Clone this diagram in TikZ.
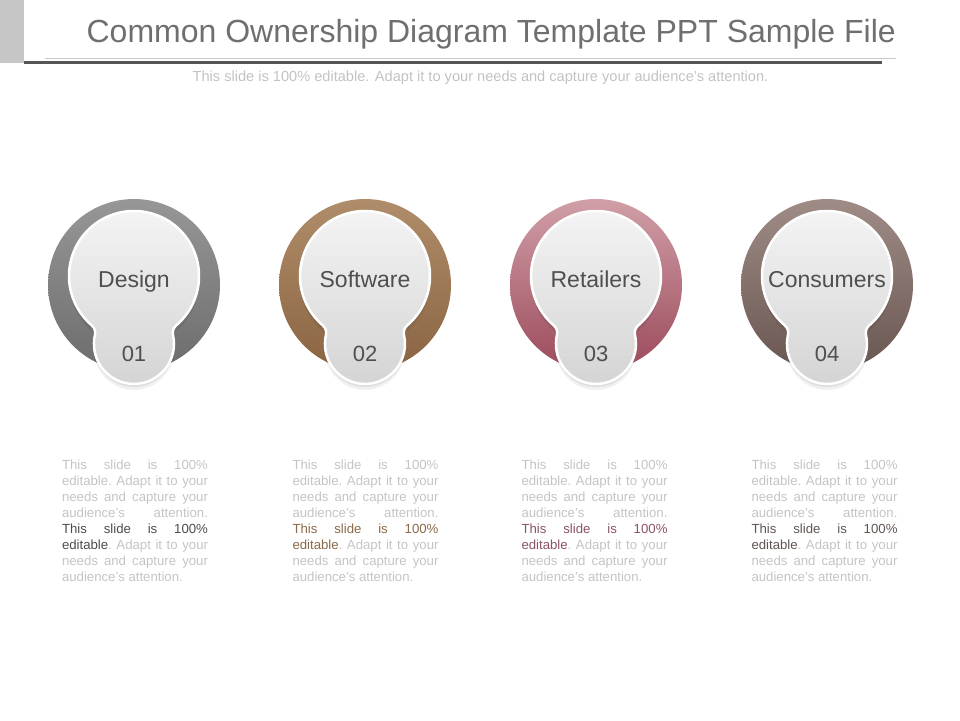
\documentclass[tikz,border=0pt]{standalone}
\usepackage{fontspec}
\setmainfont{Liberation Sans}

\definecolor{barGray}{HTML}{C6C6C6}
\definecolor{lineLight}{HTML}{C8C8C8}
\definecolor{lineDark}{HTML}{555555}
\definecolor{titleGray}{HTML}{6F6F6F}
\definecolor{subGray}{HTML}{C2C2C2}
\definecolor{labelGray}{HTML}{4F4F4F}
\definecolor{blurbGray}{HTML}{C4C4C4}
\definecolor{ringAtop}{HTML}{979797}
\definecolor{ringAbot}{HTML}{6C6C6C}
\definecolor{ringBtop}{HTML}{B08D6A}
\definecolor{ringBbot}{HTML}{8A6442}
\definecolor{ringCtop}{HTML}{D09FA7}
\definecolor{ringCbot}{HTML}{9C4A5B}
\definecolor{ringDtop}{HTML}{A08C87}
\definecolor{ringDbot}{HTML}{6A5651}
\definecolor{hlA}{HTML}{4D4D4D}
\definecolor{hlB}{HTML}{8A6A48}
\definecolor{hlC}{HTML}{8C5362}
\definecolor{hlD}{HTML}{5F5651}

% outline of one big circle with the small one hung below it
\newcommand{\bulbpath}{(-49.4:65) arc[start angle=-49.4, end angle=229.4, radius=65]
  arc[start angle=49.4, end angle=-12.7, radius=10]
  arc[start angle=167.3, end angle=372.7, radius=40]
  arc[start angle=192.7, end angle=130.6, radius=10] -- cycle}

\newcommand{\blurbsetup}{\hyphenpenalty=10000\relax\exhyphenpenalty=10000\relax
  \tolerance=10000\relax\hbadness=10000\relax\frenchspacing}
\newcommand{\blurb}[1]{\blurbsetup This slide is 100\%\linebreak editable. Adapt it to your\linebreak
  needs and capture your\linebreak audience's attention.\linebreak
  \textcolor{#1}{This slide is 100\%\linebreak editable}. Adapt it to your\linebreak
  needs and capture your\linebreak audience's attention.}

\tikzset{
  title/.style={font=\fontsize{32}{36}\selectfont, text=titleGray, inner sep=0, anchor=base east},
  subtitle/.style={font=\fontsize{14.6}{17}\selectfont, text=subGray, inner sep=0, anchor=base},
  lbl/.style={font=\fontsize{23}{26}\selectfont, text=labelGray, inner sep=0, anchor=base},
  num/.style={font=\fontsize{22}{26}\selectfont, text=labelGray, inner sep=0, anchor=base},
  blurbbox/.style={text width=146pt, align=justify, inner sep=0, anchor=north, text=blurbGray,
    font=\fontsize{13.2}{16}\selectfont},
  pics/bulb/.style 2 args={code={
    \shade[top color=#1, bottom color=#2] (0,-9) circle[radius=86];
    \fill[black, opacity=.06, shift={(0,-6)}] \bulbpath;
    \fill[black, opacity=.08, shift={(0,-3)}] \bulbpath;
    \shade[draw=white, line width=2.5pt, top color=white!96!black, bottom color=white!83!black] \bulbpath;
  }}
}

\begin{document}
\begin{tikzpicture}[x=1pt,y=1pt]
\useasboundingbox (0,0) rectangle (960,-720);
% header
\fill[barGray] (0,0) rectangle (24,-63);
\draw[line width=1.5pt, lineLight] (45,-58.7) -- (896,-58.7);
\draw[line width=2.5pt, lineDark] (24,-62.3) -- (882,-62.3);
\node[title] (title) at (896,-42.7) {Common Ownership Diagram Template PPT Sample File};
\node[subtitle] (subtitle) at (480.5,-81.7) {This slide is 100\% editable. Adapt it to your needs and capture your audience's attention.};

% the four bulbs
\pic at (134,-276) {bulb={ringAtop}{ringAbot}};
\pic at (365,-276) {bulb={ringBtop}{ringBbot}};
\pic at (596,-276) {bulb={ringCtop}{ringCbot}};
\pic at (827,-276) {bulb={ringDtop}{ringDbot}};

\node[lbl] (design) at (134,-287) {Design};
\node[lbl] (software) at (365,-287) {Software};
\node[lbl] (retailers) at (596,-287) {Retailers};
\node[lbl] (consumers) at (827,-287) {Consumers};

\node[num] (n01) at (134,-361) {01};
\node[num] (n02) at (365,-361) {02};
\node[num] (n03) at (596,-361) {03};
\node[num] (n04) at (827,-361) {04};

% texts below
\node[blurbbox] (txt1) at (135,-459.5) {\blurb{hlA}};
\node[blurbbox] (txt2) at (365.5,-459.5) {\blurb{hlB}};
\node[blurbbox] (txt3) at (594.5,-459.5) {\blurb{hlC}};
\node[blurbbox] (txt4) at (824.5,-459.5) {\blurb{hlD}};
\end{tikzpicture}
\end{document}
